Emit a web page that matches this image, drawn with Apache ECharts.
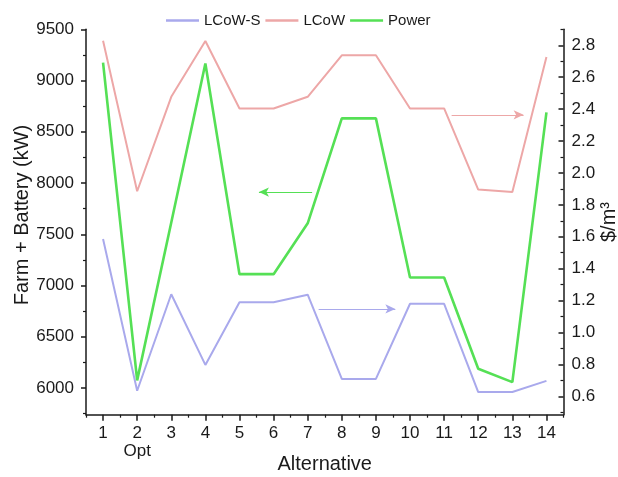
<!DOCTYPE html>
<html>
<head>
<meta charset="utf-8">
<title>Alternatives: power and levelized cost of water</title>
<script src="https://cdn.jsdelivr.net/npm/echarts@6/dist/echarts.min.js"></script>
<style>
  html, body { margin: 0; padding: 0; background: #ffffff; }
  #chart { width: 618px; height: 477px; }
</style>
</head>
<body>
<div id="chart"></div>
<script>
// Alternatives along the x axis; alternative 2 is the optimum
const categories = [1, 2, 3, 4, 5, 6, 7, 8, 9, 10, 11, 12, 13, 14];
const optimalAlternative = 2;
const optimalLabel = 'Opt';

// Levelized cost of water ($/m3), right axis
const lcowS = [1.586, 0.635, 1.24, 0.797, 1.19, 1.19, 1.237, 0.709, 0.709, 1.18, 1.18, 0.627, 0.627, 0.697];
const lcow  = [2.828, 1.885, 2.477, 2.827, 2.404, 2.404, 2.477, 2.737, 2.737, 2.404, 2.404, 1.896, 1.88, 2.727];

// Farm + battery power (kW), left axis
const power = [9175, 6075, 7615, 9166, 7111, 7111, 7607, 8631, 8631, 7078, 7078, 6188, 6058, 8689];

// Tick labels of both value axes
const leftTicks  = [6000, 6500, 7000, 7500, 8000, 8500, 9000, 9500];
const rightTicks = [0.6, 0.8, 1.0, 1.2, 1.4, 1.6, 1.8, 2.0, 2.2, 2.4, 2.6, 2.8];

// Arrows telling which axis each curve belongs to: [series, [x0, y0], [x1, y1]]
const arrowNotes = [
  ['LCoW',   [11.22, 2.364], [13.33, 2.364]],
  ['Power',  [7.13, 7912],   [5.57, 7912]],
  ['LCoW-S', [7.32, 1.148],  [9.57, 1.148]]
];

const FONT = '"Liberation Sans", Arial, Helvetica, sans-serif';
const INK = '#1a1a1a';
const colors = { 'LCoW-S': '#a9a9ec', 'LCoW': '#eda7a7', 'Power': '#55e055' };

const X_MIN = 0.5, X_MAX = 14.5;
const L_MIN = 5740, L_MAX = 9500;
const R_MIN = 0.485, R_MAX = 2.9;

const minorLeft  = leftTicks.map(v => v - 250);
const minorRight = rightTicks.map(v => +(v - 0.1).toFixed(1)).concat([2.9]);
const minorX = categories.map(c => c - 0.5).concat([X_MAX]);

const pairs = vals => categories.map((c, i) => [c, vals[i]]);

function arrowFor(name) {
  const note = arrowNotes.find(a => a[0] === name);
  return {
    silent: true,
    symbol: ['none', 'arrow'],
    symbolSize: [7, 10],
    label: { show: false },
    lineStyle: { type: 'solid', width: 1, color: colors[name] },
    data: [[{ coord: note[1] }, { coord: note[2] }]]
  };
}

const lineSeries = (name, vals, yAxisIndex, width) => ({
  name: name,
  type: 'line',
  xAxisIndex: 0,
  yAxisIndex: yAxisIndex,
  data: pairs(vals),
  symbol: 'none',
  smooth: false,
  lineStyle: { color: colors[name], width: width },
  itemStyle: { color: colors[name] },
  emphasis: { disabled: true },
  markLine: arrowFor(name),
  z: name === 'Power' ? 3 : 2
});

const axisLine = { show: true, onZero: false, lineStyle: { color: INK, width: 1.5 } };
const tickLabel = { fontFamily: FONT, fontSize: 17, color: INK };

const chart = echarts.init(document.getElementById('chart'), null, { renderer: 'canvas' });

chart.setOption({
  animation: false,
  backgroundColor: '#ffffff',
  textStyle: { fontFamily: FONT },
  legend: {
    top: 8,
    left: 161,
    icon: 'rect',
    itemWidth: 33,
    itemHeight: 2.5,
    itemGap: 5,
    data: ['LCoW-S', 'LCoW', 'Power'],
    textStyle: { fontFamily: FONT, fontSize: 15, color: INK }
  },
  grid: {
    left: 86, right: 54.5, top: 29.3, bottom: 62.3,
    containLabel: false,
    outerBoundsMode: 'none'
  },
  xAxis: [
    {
      type: 'value', min: X_MIN, max: X_MAX, position: 'bottom',
      name: 'Alternative', nameLocation: 'middle', nameGap: 40, nameMoveOverlap: false,
      nameTextStyle: { fontFamily: FONT, fontSize: 20, color: INK },
      axisLine: axisLine,
      axisTick: { show: true, inside: false, length: 6, customValues: categories,
                  lineStyle: { color: INK, width: 1.5 } },
      axisLabel: Object.assign({}, tickLabel, {
        customValues: categories, margin: 10, lineHeight: 18,
        formatter: v => v === optimalAlternative ? v + '\n' + optimalLabel : String(v)
      }),
      splitLine: { show: false }
    },
    {
      type: 'value', min: X_MIN, max: X_MAX, position: 'bottom',
      axisLine: { show: false, onZero: false },
      axisTick: { show: true, inside: false, length: 3, customValues: minorX,
                  lineStyle: { color: INK, width: 1.2 } },
      axisLabel: { show: false },
      splitLine: { show: false }
    }
  ],
  yAxis: [
    {
      type: 'value', min: L_MIN, max: L_MAX, position: 'left',
      name: 'Farm + Battery (kW)', nameLocation: 'middle', nameGap: 54, nameMoveOverlap: false,
      nameTextStyle: { fontFamily: FONT, fontSize: 20, color: INK, padding: [0, 0, 0, 14] },
      axisLine: axisLine,
      axisTick: { show: true, inside: false, length: 5, customValues: leftTicks,
                  lineStyle: { color: INK, width: 1.5 } },
      axisLabel: Object.assign({}, tickLabel, {
        customValues: leftTicks, margin: 12, formatter: v => String(v)
      }),
      splitLine: { show: false }
    },
    {
      type: 'value', min: R_MIN, max: R_MAX, position: 'right',
      name: '$/m³', nameLocation: 'middle', nameGap: 36, nameRotate: 90, nameMoveOverlap: false,
      nameTextStyle: { fontFamily: FONT, fontSize: 20, color: INK },
      axisLine: axisLine,
      axisTick: { show: true, inside: true, length: 5, customValues: rightTicks,
                  lineStyle: { color: INK, width: 1.5 } },
      axisLabel: Object.assign({}, tickLabel, {
        customValues: rightTicks, margin: 8, formatter: v => v.toFixed(1)
      }),
      splitLine: { show: false }
    },
    {
      type: 'value', min: L_MIN, max: L_MAX, position: 'left',
      axisLine: { show: false, onZero: false },
      axisTick: { show: true, inside: false, length: 3, customValues: minorLeft,
                  lineStyle: { color: INK, width: 1.2 } },
      axisLabel: { show: false },
      splitLine: { show: false }
    },
    {
      type: 'value', min: R_MIN, max: R_MAX, position: 'right',
      axisLine: { show: false, onZero: false },
      axisTick: { show: true, inside: true, length: 3, customValues: minorRight,
                  lineStyle: { color: INK, width: 1.2 } },
      axisLabel: { show: false },
      splitLine: { show: false }
    }
  ],
  series: [
    lineSeries('LCoW-S', lcowS, 1, 2),
    lineSeries('LCoW', lcow, 1, 2),
    lineSeries('Power', power, 0, 2.6)
  ]
});
</script>
</body>
</html>
